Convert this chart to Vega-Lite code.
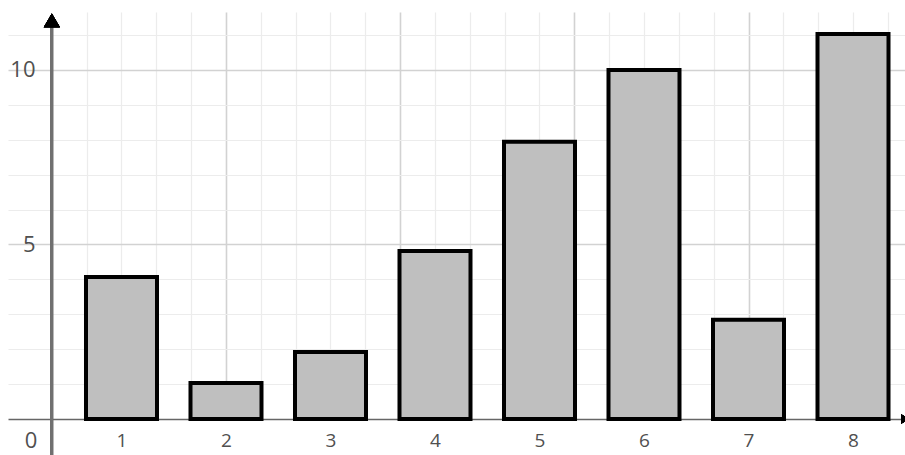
{
  "$schema": "https://vega.github.io/schema/vega-lite/v6.json",
  "width": 897,
  "height": 407,
  "autosize": {"type": "none"},
  "padding": {"left": 8, "top": 12, "right": 0, "bottom": 36},
  "background": "white",
  "config": {"view": {"stroke": null}},
  "data": {"values": [
    {"category": 1, "value": 4.07},
    {"category": 2, "value": 1.03},
    {"category": 3, "value": 1.92},
    {"category": 4, "value": 4.81},
    {"category": 5, "value": 7.94},
    {"category": 6, "value": 10.0},
    {"category": 7, "value": 2.84},
    {"category": 8, "value": 11.03}
  ]},
  "layer": [
    {
      "mark": {"type": "bar", "size": 71, "fill": "#bfbfbf", "stroke": "#000000", "strokeWidth": 4},
      "encoding": {
        "x": {
          "field": "category", "type": "quantitative",
          "scale": {"domain": [-0.0861, 8.4976], "nice": false, "zero": false, "padding": 0},
          "axis": {
            "title": null,
            "tickCount": 200,
            "values": [0.13, 0.6666666666666666, 1, 1.3333333333333333, 1.6666666666666667, 2, 2.3333333333333335, 2.6666666666666665, 3, 3.3333333333333335, 3.6666666666666665, 4, 4.333333333333333, 4.666666666666667, 5, 5.333333333333333, 5.666666666666667, 6, 6.333333333333333, 6.666666666666667, 7, 7.333333333333333, 7.666666666666667, 8, 8.333333333333334],
            "grid": true,
            "gridColor": {"condition": {"test": "abs(round(datum.value*3-1)) % 5 === 0", "value": "#d2d2d2"}, "value": "#ececec"},
            "gridWidth": {"condition": {"test": "abs(round(datum.value*3-1)) % 5 === 0", "value": 1.6}, "value": 1.2},
            "gridOpacity": {"condition": {"test": "datum.value < 0.2", "value": 0}, "value": 1},
            "ticks": false,
            "domain": true,
            "domainColor": "#666666",
            "domainWidth": 1.5,
            "labelExpr": "datum.value < 0.2 ? '0' : (abs(datum.value - round(datum.value)) < 0.01 ? '' + round(datum.value) : '')",
            "labelFontSize": {"condition": {"test": "datum.value < 0.2", "value": 22}, "value": 19},
            "labelFont": "Open Sans",
            "labelColor": "#505050",
            "labelBaseline": "middle",
            "labelPadding": 21,
            "labelOverlap": false,
            "labelFlush": false,
            "labelBound": false
          }
        },
        "y": {
          "field": "value", "type": "quantitative",
          "scale": {"domain": [0, 11.66], "nice": false, "zero": false, "padding": 0},
          "axis": {
            "title": null,
            "tickCount": 200,
            "values": [1, 2, 3, 4, 5, 6, 7, 8, 9, 10, 11],
            "grid": true,
            "gridColor": {"condition": {"test": "round(datum.value) % 5 === 0", "value": "#d2d2d2"}, "value": "#ececec"},
            "gridWidth": {"condition": {"test": "round(datum.value) % 5 === 0", "value": 1.6}, "value": 1.2},
            "ticks": false,
            "domain": false,
            "labelExpr": "round(datum.value) === 5 || round(datum.value) === 10 ? '' + round(datum.value) : ''",
            "labelFontSize": 22,
            "labelFont": "Open Sans",
            "labelColor": "#505050",
            "labelAlign": "right",
            "labelBaseline": "middle",
            "labelPadding": -27,
            "labelOverlap": false,
            "labelFlush": false,
            "labelBound": false
          }
        }
      }
    },
    {
      "mark": {"type": "rule", "color": "#707070", "strokeWidth": 2.5},
      "encoding": {
        "x": {"datum": 0.3333333333333333, "type": "quantitative"},
        "y": {"datum": -1.1, "type": "quantitative"},
        "y2": {"datum": 11.3}
      }
    },
    {
      "mark": {"type": "point", "shape": "triangle-up", "filled": true, "color": "#000000", "size": 260, "opacity": 1},
      "encoding": {
        "x": {"datum": 0.3333333333333333, "type": "quantitative"},
        "y": {"datum": 11.42, "type": "quantitative"}
      }
    },
    {
      "mark": {"type": "point", "shape": "triangle-right", "filled": true, "color": "#000000", "size": 90, "opacity": 1},
      "encoding": {
        "x": {"datum": 8.5, "type": "quantitative"},
        "y": {"datum": 0, "type": "quantitative"}
      }
    }
  ]
}
